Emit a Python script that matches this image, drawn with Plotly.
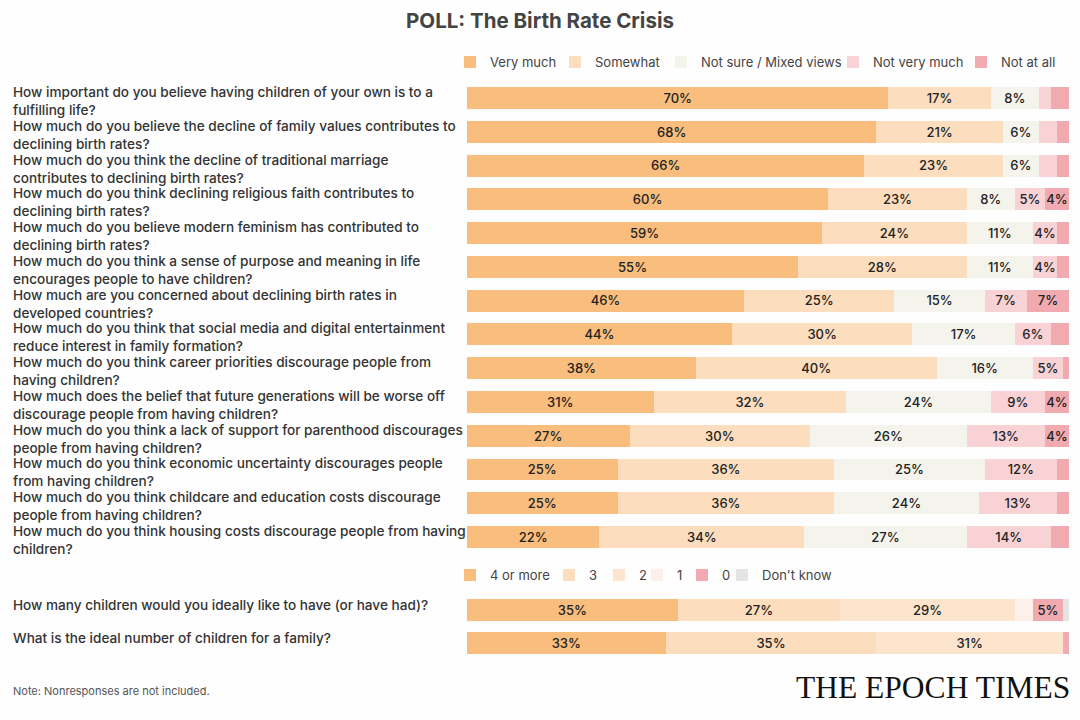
import plotly.graph_objects as go

# ---------------- data ----------------
questions = [
    "How important do you believe having children of your own is to a<br>fulfilling life?",
    "How much do you believe the decline of family values contributes to<br>declining birth rates?",
    "How much do you think the decline of traditional marriage<br>contributes to declining birth rates?",
    "How much do you think declining religious faith contributes to<br>declining birth rates?",
    "How much do you believe modern feminism has contributed to<br>declining birth rates?",
    "How much do you think a sense of purpose and meaning in life<br>encourages people to have children?",
    "How much are you concerned about declining birth rates in<br>developed countries?",
    "How much do you think that social media and digital entertainment<br>reduce interest in family formation?",
    "How much do you think career priorities discourage people from<br>having children?",
    "How much does the belief that future generations will be worse off<br>discourage people from having children?",
    "How much do you think a lack of support for parenthood discourages<br>people from having children?",
    "How much do you think economic uncertainty discourages people<br>from having children?",
    "How much do you think childcare and education costs discourage<br>people from having children?",
    "How much do you think housing costs discourage people from having<br>children?",
]
scale_names = ["Very much", "Somewhat", "Not sure / Mixed views", "Not very much", "Not at all"]
very_much      = [70, 68, 66, 60, 59, 55, 46, 44, 38, 31, 27, 25, 25, 22]
somewhat       = [17, 21, 23, 23, 24, 28, 25, 30, 40, 32, 30, 36, 36, 34]
not_sure       = [8, 6, 6, 8, 11, 11, 15, 17, 16, 24, 26, 25, 24, 27]
not_very_much  = [2, 3, 3, 5, 4, 4, 7, 6, 5, 9, 13, 12, 13, 14]
not_at_all     = [3, 2, 2, 4, 2, 2, 7, 3, 1, 4, 4, 2, 2, 3]
scale_values = [very_much, somewhat, not_sure, not_very_much, not_at_all]
scale_colors = ["#F9BD7D", "#FCDDBE", "#F5F4EC", "#F8D2D5", "#F1AAB0"]

child_questions = [
    "How many children would you ideally like to have (or have had)?",
    "What is the ideal number of children for a family?",
]
child_names = ["4 or more", "3", "2", "1", "0", "Don't know"]
four_plus  = [35, 33]
three      = [27, 35]
two        = [29, 31]
one        = [3, 0]
zero       = [5, 1]
dont_know  = [1, 0]
child_values = [four_plus, three, two, one, zero, dont_know]
child_colors = ["#F9BD7D", "#FCDDBD", "#FDE5CD", "#FDF0EA", "#F1AAB0", "#E4E4E4"]

# legend swatch left edges (px) in the two legend rows
legend1_px = [466, 571, 677, 849, 977]
legend2_px = [466, 565, 615, 653, 698, 738]

LABEL_MIN = 4

def labels(vals):
    return [f"{v}%" if v >= LABEL_MIN else "" for v in vals]

FONT = "Inter"
W, H = 1080.0, 720.0
ML, MR = 467, 11
PW = W - ML - MR

def py(px):
    return 1 - px / H

def pxx(px):
    return (px - ML) / PW

fig = go.Figure()
legend_layouts = {}
lid = 0

def next_legend(swatch_px, y_px):
    global lid
    lid += 1
    key = "legend" if lid == 1 else f"legend{lid}"
    legend_layouts[key] = dict(
        orientation="h", x=pxx(swatch_px - 16), xanchor="left",
        y=py(y_px), yanchor="middle",
        font=dict(family=FONT, size=13, color="#444444"),
        bgcolor="rgba(0,0,0,0)", borderwidth=0,
    )
    return key

BAR_TEXT = dict(family=FONT, size=13.5, color="#222222", weight=500)

for name, vals, col, lx in zip(scale_names, scale_values, scale_colors, legend1_px):
    fig.add_trace(go.Bar(
        y=questions, x=vals, name=name, orientation="h",
        marker=dict(color=col, line=dict(width=0)),
        width=0.65,
        text=labels(vals), textposition="inside", insidetextanchor="middle",
        textangle=0, textfont=BAR_TEXT,
        hoverinfo="skip", legend=next_legend(lx, 62), xaxis="x", yaxis="y",
    ))

for name, vals, col, lx in zip(child_names, child_values, child_colors, legend2_px):
    fig.add_trace(go.Bar(
        y=child_questions, x=vals, name=name, orientation="h",
        marker=dict(color=col, line=dict(width=0)),
        width=0.65,
        text=labels(vals), textposition="inside", insidetextanchor="middle",
        textangle=0, textfont=BAR_TEXT,
        hoverinfo="skip", legend=next_legend(lx, 575), xaxis="x2", yaxis="y2",
    ))

annotations = []
LX = pxx(11)
for q in questions:
    annotations.append(dict(
        text=q, xref="paper", x=LX, xanchor="left", align="left",
        yref="y", y=q, yanchor="top", yshift=16, showarrow=False,
        font=dict(family=FONT, size=13.6, color="#333333", weight=500),
    ))
for q in child_questions:
    annotations.append(dict(
        text=q, xref="paper", x=LX, xanchor="left", align="left",
        yref="y2", y=q, yanchor="top", yshift=15, showarrow=False,
        font=dict(family=FONT, size=13.6, color="#333333", weight=500),
    ))
annotations.append(dict(
    text="Note: Nonresponses are not included.", xref="paper", x=LX, xanchor="left",
    yref="paper", y=py(691), yanchor="middle", showarrow=False,
    font=dict(family=FONT, size=11, color="#555555"),
))
annotations.append(dict(
    text="THE EPOCH TIMES", xref="paper", x=1, xanchor="right", xshift=3,
    yref="paper", y=py(687), yanchor="middle", showarrow=False,
    font=dict(family="Liberation Serif", size=31.5, color="#111111"),
))

n_top = len(questions)
n_bot = len(child_questions)

fig.update_layout(
    width=W, height=H,
    margin=dict(l=ML, r=MR, t=0, b=0, autoexpand=False),
    paper_bgcolor="#FEFEFE", plot_bgcolor="rgba(0,0,0,0)",
    barmode="stack",
    uniformtext=dict(minsize=13, mode="show"),
    title=dict(text="<b>POLL: The Birth Rate Crisis</b>", x=0.5, xref="container",
               xanchor="center", y=1 - 21 / H, yref="container", yanchor="middle",
               font=dict(family=FONT, size=20.5, color="#444444")),
    xaxis=dict(domain=[0, 1], range=[0, 100], visible=False, fixedrange=True, anchor="y"),
    yaxis=dict(domain=[py(553.9), py(81.1)], type="category", categoryorder="array",
               categoryarray=questions, range=[n_top - 0.5, -0.5], visible=False, anchor="x"),
    xaxis2=dict(domain=[0, 1], range=[0, 100], visible=False, anchor="y2"),
    yaxis2=dict(domain=[py(659.5), py(593.5)], type="category", categoryorder="array",
                categoryarray=child_questions, range=[n_bot - 0.5, -0.5], visible=False,
                anchor="x2"),
    annotations=annotations,
    showlegend=True,
    **legend_layouts,
)

fig.write_html("out.html")
